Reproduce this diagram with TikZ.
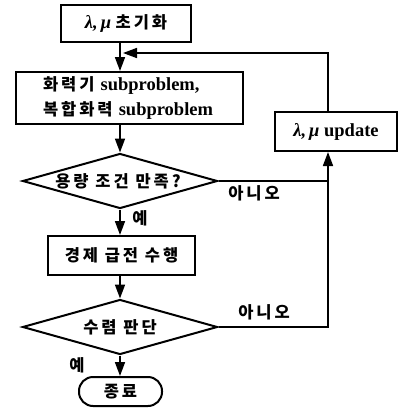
\documentclass[tikz,border=0pt]{standalone}
\usepackage{fontspec}
\setmainfont{Liberation Serif}
\newfontfamily\kr{Noto Sans CJK KR}[LetterSpace=18]
\usetikzlibrary{arrows.meta,shapes.geometric}
\begin{document}
\begin{tikzpicture}[x=1pt,y=-1pt,
  txt/.style={font=\fontsize{18.5}{26}\selectfont\bfseries},
  box/.style={draw,line width=2pt,inner sep=0pt,txt},
  dia/.style={draw,diamond,line width=2pt,inner sep=0pt,minimum width=195pt,minimum height=55pt},
  term/.style={draw,line width=2pt,rounded corners=14pt,inner sep=0pt,minimum width=83pt,minimum height=29pt,txt},
  con/.style={line width=1.6pt},
  arr/.style={con,-{Triangle[length=14pt,width=10pt]}},
]
\newcommand\kk[1]{{\kr\fontsize{16.5}{26}\selectfont #1}}
\fill[white] (0,0) rectangle (404,408);
\useasboundingbox (0,0) rectangle (404,408);

\node[box,minimum width=130pt,minimum height=37pt] (init) at (126,23.5) {{\itshape λ,\,μ} \kk{초기화}};
\node[box,minimum height=52pt,align=left,text width=173pt,inner xsep=27pt] (sub) at (129.5,98)
  {\kk{화력기} subproblem,\\[-1pt]\kk{복합화력} subproblem};
\node[dia] (d1) at (120,181) {};
\node[txt,xshift=-2pt] at (d1) {\kk{용량 조건 만족?}};
\node[box,minimum width=147pt,minimum height=39pt] (ed) at (121.5,255.5) {\kk{경제 급전 수행}};
\node[dia] (d2) at (120,327) {};
\node[txt] at (d2) {\kk{수렴 판단}};
\node[term] (end) at (120.5,391.5) {\kk{종료}};
\node[box,minimum width=122pt,minimum height=39pt] (upd) at (336,131.5) {{\itshape λ,\,μ} update};

\coordinate (fb) at (123,53);
\coordinate (ux) at (328,0);

\draw[arr] (init.south -| d1.north) -- (d1.north |- sub.north);
\draw[arr] ([xshift=-8pt]upd.north) |- (fb);
\draw[arr] (sub.south -| d1.north) -- (d1.north);
\draw[arr] (d1.south) -- (d1.south |- ed.north);
\draw[arr] (ed.south -| d2.north) -- (d2.north);
\draw[arr] (d2.south) -- (d2.south |- end.north);
\draw[con] (d1.east) -- (d1.east -| ux);
\draw[arr] (d2.east) -| ([xshift=-8pt]upd.south);

\node[txt] at (254,193) {\kk{아니오}};
\node[txt] at (264,312) {\kk{아니오}};
\node[txt] at (140,218) {\kk{예}};
\node[txt] at (77,365) {\kk{예}};
\end{tikzpicture}
\end{document}
